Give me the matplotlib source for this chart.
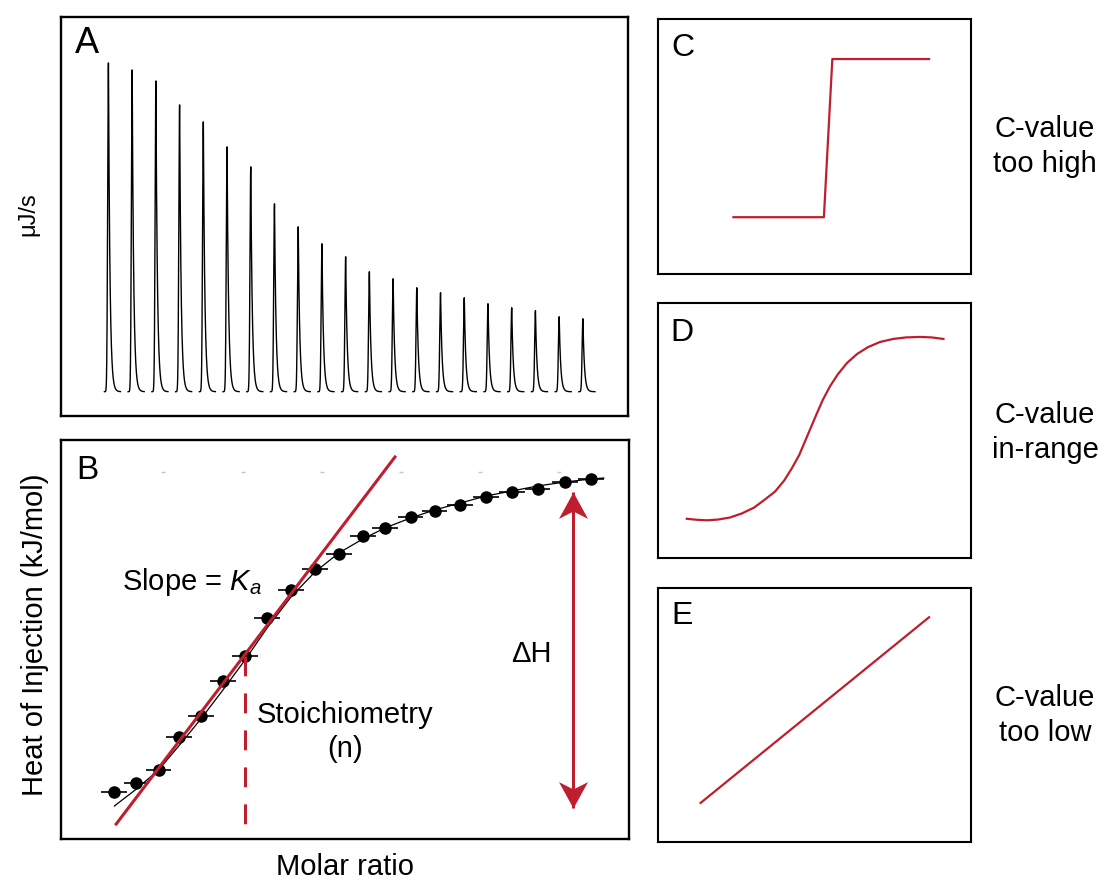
import numpy as np
import matplotlib
matplotlib.use('Agg')
import matplotlib.pyplot as plt
from matplotlib.path import Path

plt.rcParams['font.family'] = ['Liberation Sans', 'DejaVu Sans']
plt.rcParams['mathtext.fontset'] = 'custom'
plt.rcParams['mathtext.rm'] = 'Liberation Sans'
plt.rcParams['mathtext.it'] = 'Liberation Sans:italic'

W, H, DPI = 1105, 880, 100
RED = '#BE1E2D'

# ---------------- data ----------------
# Panel A: thermogram (one peak per injection)
injection_index = list(range(21))
peak_heights = [32.9, 32.2, 31.1, 28.7, 27.0, 24.5, 22.5, 18.8, 16.5, 14.8, 13.5,
                12.0, 11.3, 10.4, 9.9, 9.4, 8.8, 8.4, 8.1, 7.5, 7.3]

# Panel B: integrated heats
molar_ratio = [0.29, 0.41, 0.53, 0.64, 0.76, 0.88, 1.00, 1.12, 1.25, 1.38, 1.51,
               1.64, 1.76, 1.90, 2.03, 2.17, 2.31, 2.45, 2.59, 2.74, 2.88]
heat = [4.7, 5.6, 6.9, 10.2, 12.3, 15.8, 18.3, 22.1, 24.9, 27.0, 28.5,
        30.3, 31.1, 32.2, 32.8, 33.4, 34.2, 34.7, 35.0, 35.7, 36.0]
heat_err = 0.07
fit_ratio = [0.29, 0.41, 0.53, 0.64, 0.76, 0.88, 1.00, 1.12, 1.25, 1.38, 1.51,
             1.64, 1.76, 1.90, 2.03, 2.17, 2.31, 2.45, 2.59, 2.74, 2.88, 2.95]
fit_heat = [3.3, 5.0, 6.9, 9.3, 12.0, 14.9, 17.9, 21.1, 24.2, 26.7, 28.6,
            30.0, 31.1, 32.1, 32.9, 33.6, 34.3, 34.8, 35.3, 35.7, 36.0, 36.1]
slope_ratio = [0.30, 1.815]
slope_heat = [1.5, 38.2]
stoich_n = 1.0
stoich_heat = 18.3
dH_ratio = 2.78
dH_top, dH_bottom = 34.7, 3.1
grey_tick_ratio = [0.556, 0.988, 1.418, 1.848, 2.277, 2.708]
grey_tick_heat = [36.7] * 6

# Panels C, D, E (schematic curves, % of panel)
c_x = [24.1, 53.0, 55.7, 86.6]
c_y = [22.3, 22.3, 84.4, 84.4]
d_x = [9.2, 12.5, 15.7, 19.2, 23.0, 26.8, 30.7, 34.2, 37.4, 40.3, 42.8, 45.1,
       47.0, 48.9, 50.8, 52.7, 55.0, 57.5, 60.4, 63.6, 67.1, 70.9, 75.1, 79.2,
       83.7, 87.5, 91.2]
d_y = [15.4, 15.0, 14.8, 15.1, 15.9, 17.5, 19.8, 23.0, 26.1, 30.4, 35.3, 40.4,
       45.9, 51.4, 56.9, 62.2, 67.5, 72.2, 76.6, 80.1, 82.8, 84.8, 86.0, 86.6,
       86.8, 86.6, 86.0]
e_x = [13.6, 86.6]
e_y = [15.5, 88.6]

# ---------------- figure ----------------
fig = plt.figure(figsize=(W / DPI, H / DPI), dpi=DPI)


def add_axes_px(l, t, r, b, lw):
    ax = fig.add_axes([l / W, 1 - b / H, (r - l) / W, (b - t) / H])
    ax.set_xticks([])
    ax.set_yticks([])
    for s in ax.spines.values():
        s.set_linewidth(lw)
        s.set_color('black')
    return ax


def ftext(x, y, s, **kw):
    return fig.text(x / W, 1 - y / H, s, **kw)


# Panel A
axA = add_axes_px(61, 17, 627.5, 415.7, 1.7)
axA.set_xlim(-2.0, 21.88)
axA.set_ylim(-2.4, 37.47)
t_px = np.linspace(-4, 12, 400)
shape = np.where(t_px < 0, np.exp(-(t_px / 1.1) ** 2), np.exp(-t_px / 1.5))
for i, h in zip(injection_index, peak_heights):
    axA.plot(i + t_px / 23.7, h * shape, color='black', lw=1.0)

# Panel B
axB = add_axes_px(61, 440, 629, 839, 1.7)
axB.set_xlim(0, 3.087)
axB.set_ylim(0, 39.9)
axB.plot(grey_tick_ratio, grey_tick_heat, ls='none', marker='_', ms=3,
         color='#c8c8c8', mew=1)
axB.plot(fit_ratio, fit_heat, color='black', lw=0.9, zorder=2)
axB.errorbar(molar_ratio, heat, xerr=heat_err, fmt='o', color='black', ms=8,
             elinewidth=1.2, capsize=0, zorder=3)
axB.plot(slope_ratio, slope_heat, color=RED, lw=2.2, zorder=4)
axB.plot([stoich_n, stoich_n], [stoich_heat, 0], color=RED, lw=2.2,
         dashes=(6.5, 5.6), zorder=4)
axB.plot([dH_ratio, dH_ratio], [dH_top, dH_bottom], color=RED, lw=2.2,
         solid_capstyle='butt', zorder=4)
up_head = Path([(0, 0), (0.55, -1), (0, -0.72), (-0.55, -1), (0, 0)],
               [Path.MOVETO, Path.LINETO, Path.LINETO, Path.LINETO, Path.CLOSEPOLY])
down_head = Path([(0, 0), (0.55, 1), (0, 0.72), (-0.55, 1), (0, 0)],
                 [Path.MOVETO, Path.LINETO, Path.LINETO, Path.LINETO, Path.CLOSEPOLY])
axB.plot([dH_ratio], [dH_top], marker=up_head, ms=38, mfc=RED, mec=RED, mew=0, zorder=5)
axB.plot([dH_ratio], [dH_bottom], marker=down_head, ms=38, mfc=RED, mec=RED, mew=0, zorder=5)
axB.text(2.558, 18.5, 'ΔH', fontsize=21, ha='center', va='center')
axB.text(0.33, 24.9, 'Slope = $K_a$', fontsize=21, ha='left', va='baseline')
axB.text(1.542, 11.57, 'Stoichiometry', fontsize=21, ha='center', va='baseline')
axB.text(1.542, 8.2, '(n)', fontsize=21, ha='center', va='baseline')

# Panels C, D, E
axC = add_axes_px(658, 19.3, 971, 274, 1.5)
axD = add_axes_px(658, 303.3, 971, 558, 1.5)
axE = add_axes_px(658, 588.3, 971, 842.3, 1.5)
for ax, xs, ys in ((axC, c_x, c_y), (axD, d_x, d_y), (axE, e_x, e_y)):
    ax.set_xlim(0, 100)
    ax.set_ylim(0, 100)
    ax.plot(xs, ys, color=RED, lw=1.6, solid_joinstyle='round')

# Panel letters
ftext(75, 52.7, 'A', fontsize=26, ha='left', va='baseline')
ftext(76, 479.3, 'B', fontsize=24, ha='left', va='baseline')
ftext(671, 56.5, 'C', fontsize=23, ha='left', va='baseline')
ftext(670.5, 340.7, 'D', fontsize=23, ha='left', va='baseline')
ftext(671, 624.3, 'E', fontsize=23, ha='left', va='baseline')

# Right-side labels
for y1, l2 in ((136.7, 'too high'), (423.3, 'in-range'), (705.7, 'too low')):
    ftext(1045, y1, 'C-value', fontsize=21, ha='center', va='baseline')
    ftext(1045, y1 + 35, l2, fontsize=21, ha='center', va='baseline')

# Axis labels
ftext(34, 214, 'μJ/s', fontsize=17, rotation=90, rotation_mode='anchor',
      ha='center', va='baseline')
ftext(43.3, 635, 'Heat of Injection (kJ/mol)', fontsize=21, rotation=90,
      rotation_mode='anchor', ha='center', va='baseline')
ftext(345.3, 875, 'Molar ratio', fontsize=21, ha='center', va='baseline')

fig.savefig('out.png', dpi=DPI)
